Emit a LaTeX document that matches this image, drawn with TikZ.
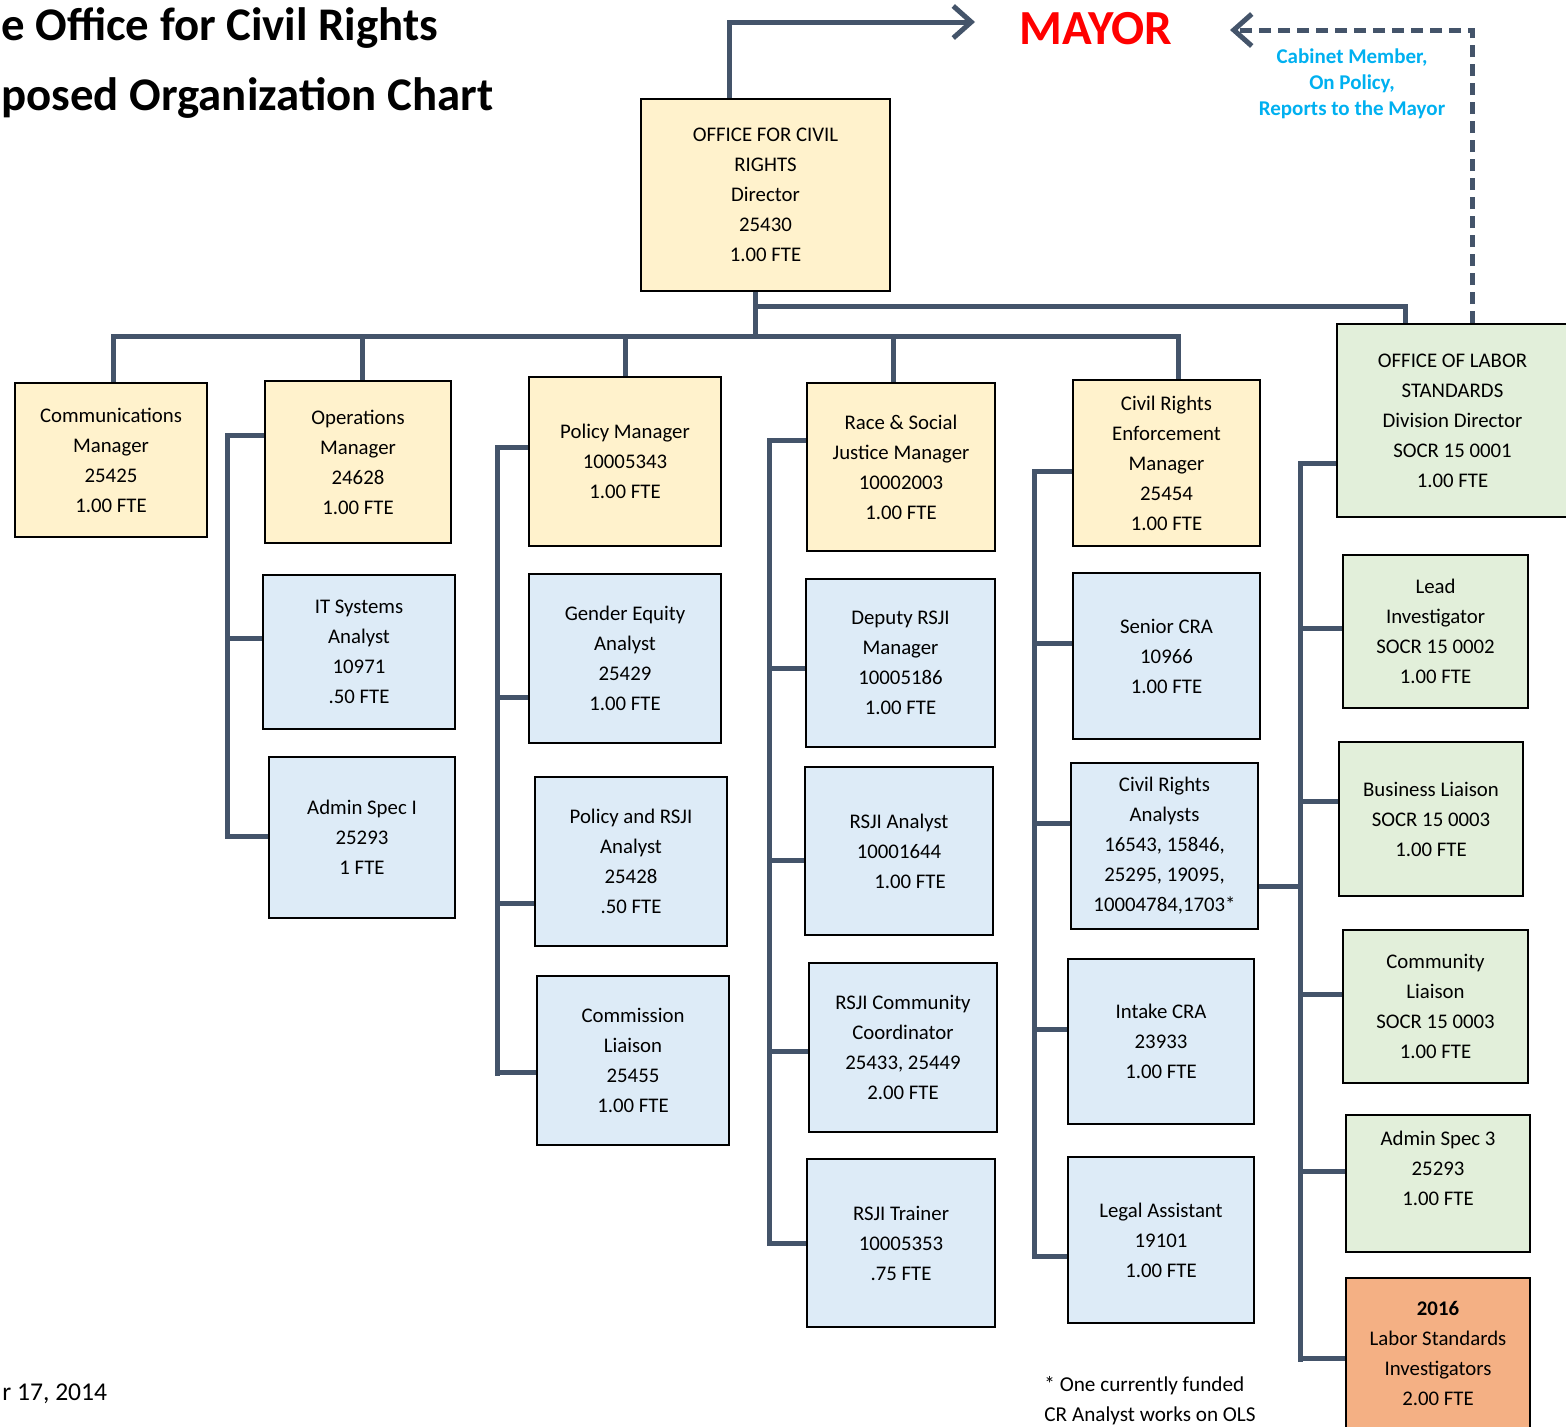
\documentclass[tikz,border=0pt]{standalone}
\usepackage{fontspec}
\setmainfont{Carlito}
\usetikzlibrary{arrows.meta,backgrounds}
\definecolor{linkc}{HTML}{44546A}
\definecolor{cream}{HTML}{FFF2CC}
\definecolor{lblue}{HTML}{DDEBF7}
\definecolor{lgreen}{HTML}{E2EFDA}
\definecolor{orangec}{HTML}{F4B084}
\definecolor{cabc}{HTML}{00B0F0}
\definecolor{mayorred}{HTML}{FF0000}
\tikzset{
  box/.style={draw=black, line width=1pt, rectangle, inner sep=0pt, align=center, font=\fontsize{10.4}{15}\selectfont},
  ybox/.style={box, fill=cream},
  bbox/.style={box, fill=lblue},
  gbox/.style={box, fill=lgreen},
  obox/.style={box, fill=orangec},
  link/.style={draw=linkc, line width=2.5pt},
  barb/.style={-{Straight Barb[length=9pt,width=16pt]}},
}
\newcommand{\orgbox}[7]{\node[#1, minimum width={(#5-#3)*0.5pt}, minimum height={(#6-#4)*0.5pt}] (#2) at ({(#3+#5)/2},{(#4+#6)/2}) {#7};}
\begin{document}
\begin{tikzpicture}[x=0.5pt,y=-0.5pt]
\useasboundingbox (0,0) rectangle (1566,1426);
% titles
\node[anchor=base west, inner sep=0pt, font=\fontsize{23.4}{28}\selectfont\bfseries] (t1) at (1,40) {e Office for Civil Rights};
\node[anchor=base west, inner sep=0pt, font=\fontsize{23.4}{28}\selectfont\bfseries] (t2) at (1,110) {posed Organization Chart};
\node[inner sep=0pt, text=mayorred, font=\fontsize{24.5}{28}\selectfont\bfseries] (mayor) at (1096,29) {MAYOR};
\node[inner sep=0pt, align=center, text=cabc, font=\fontsize{10.5}{13}\selectfont\bfseries] (cab) at (1352,84) {Cabinet Member,\\On Policy,\\Reports to the Mayor};
\node[anchor=base west, inner sep=0pt, font=\fontsize{12.8}{15}\selectfont] (date) at (2,1400) {r 17, 2014};
\node[anchor=base west, inner sep=0pt, font=\fontsize{10.6}{15}\selectfont] (fn1) at (1044,1391) {* One currently funded};
\node[anchor=base west, inner sep=0pt, font=\fontsize{10.6}{15}\selectfont] (fn2) at (1044,1421) {CR Analyst works on OLS};
% top-level boxes
\orgbox{ybox}{dir}{641}{99}{890}{291}{OFFICE FOR CIVIL\\RIGHTS\\Director\\25430\\1.00 FTE}
\orgbox{ybox}{comm}{15}{383}{207}{537}{Communications\\Manager\\25425\\1.00 FTE}
\orgbox{ybox}{ops}{265}{381}{451}{543}{Operations\\Manager\\24628\\1.00 FTE}
\orgbox{ybox}{pol}{529}{377}{721}{546}{Policy Manager\\10005343\\1.00 FTE}
\orgbox{ybox}{rsj}{807}{383}{995}{551}{Race \& Social\\Justice Manager\\10002003\\1.00 FTE}
\orgbox{ybox}{cre}{1073}{380}{1260}{546}{Civil Rights\\Enforcement\\Manager\\25454\\1.00 FTE}
\orgbox{gbox}{ols}{1337}{324}{1568}{517}{OFFICE OF LABOR\\STANDARDS\\Division Director\\SOCR 15 0001\\1.00 FTE}
% blue boxes
\orgbox{bbox}{its}{263}{575}{455}{729}{IT Systems\\Analyst\\10971\\.50 FTE}
\orgbox{bbox}{adm}{269}{757}{455}{918}{Admin Spec I\\25293\\1 FTE}
\orgbox{bbox}{gea}{529}{574}{721}{743}{Gender Equity\\Analyst\\25429\\1.00 FTE}
\orgbox{bbox}{pra}{535}{777}{727}{946}{Policy and RSJI\\Analyst\\25428\\.50 FTE}
\orgbox{bbox}{coml}{537}{976}{729}{1145}{Commission\\Liaison\\25455\\1.00 FTE}
\orgbox{bbox}{drm}{806}{579}{995}{747}{Deputy RSJI\\Manager\\10005186\\1.00 FTE}
\orgbox{bbox}{rsa}{805}{767}{993}{935}{RSJI Analyst\\10001644\\\hspace*{11pt}1.00 FTE}
\orgbox{bbox}{rcc}{809}{963}{997}{1132}{RSJI Community\\Coordinator\\25433, 25449\\2.00 FTE}
\orgbox{bbox}{rtr}{807}{1159}{995}{1327}{RSJI Trainer\\10005353\\.75 FTE}
\orgbox{bbox}{scra}{1073}{573}{1260}{739}{Senior CRA\\10966\\1.00 FTE}
\orgbox{bbox}{cra}{1071}{763}{1258}{929}{Civil Rights\\Analysts\\16543, 15846,\\25295, 19095,\\10004784,1703*}
\orgbox{bbox}{icra}{1068}{959}{1254}{1124}{Intake CRA\\23933\\1.00 FTE}
\orgbox{bbox}{lgl}{1068}{1157}{1254}{1323}{Legal Assistant\\19101\\1.00 FTE}
% green / orange boxes
\orgbox{gbox}{lead}{1343}{555}{1528}{708}{Lead\\Investigator\\SOCR 15 0002\\1.00 FTE}
\orgbox{gbox}{busl}{1339}{742}{1523}{896}{Business Liaison\\SOCR 15 0003\\1.00 FTE}
\orgbox{gbox}{cliai}{1343}{930}{1528}{1083}{Community\\Liaison\\SOCR 15 0003\\1.00 FTE}
\orgbox{gbox}{adm3}{1346}{1115}{1530}{1252}{Admin Spec 3\\25293\\1.00 FTE\\\mbox{}}
\orgbox{obox}{lsi}{1346}{1278}{1530}{1428}{\textbf{2016}\\Labor Standards\\Investigators\\2.00 FTE}
% free-end coordinates
\coordinate (mayorarr) at (975,22);
\coordinate (cabarr) at (1230,30);
\begin{scope}[on background layer]
% to mayor
\draw[link, barb] (dir.north -| 729,0) |- (mayorarr);
\draw[link, barb, dash pattern=on 6pt off 3.5pt] (ols.north -| 1472,0) |- (cabarr);
% director down and bus
\draw[link] (dir.south -| 755,0) -- (755,336);
\draw[link] (755,306) -| (ols.north -| 1405,0);
\draw[link] (comm.north -| 113,0) -- (113,336) -- (1178,336) -- (cre.north -| 1178,0);
\draw[link] (362,336) -- (ops.north -| 362,0);
\draw[link] (625,336) -- (pol.north -| 625,0);
\draw[link] (893,336) -- (rsj.north -| 893,0);
% operations group
\draw[link] (ops.west |- 0,435) -| (227,836) -- (adm.west |- 0,836);
\draw[link] (227,638) -- (its.west |- 0,638);
% policy group
\draw[link] (pol.west |- 0,447) -| (497,1076) ;
\draw[link] (497,1072) -- (coml.west |- 0,1072);
\draw[link] (497,697) -- (gea.west |- 0,697);
\draw[link] (497,903) -- (pra.west |- 0,903);
% RSJ group
\draw[link] (rsj.west |- 0,440) -| (769,1243) -- (rtr.west |- 0,1243);
\draw[link] (769,668) -- (drm.west |- 0,668);
\draw[link] (769,860) -- (rsa.west |- 0,860);
\draw[link] (769,1051) -- (rcc.west |- 0,1051);
% CRE group
\draw[link] (cre.west |- 0,471) -| (1034,1256) -- (lgl.west |- 0,1256);
\draw[link] (1034,643) -- (scra.west |- 0,643);
\draw[link] (1034,823) -- (cra.west |- 0,823);
\draw[link] (1034,1029) -- (icra.west |- 0,1029);
% OLS group
\draw[link] (ols.west |- 0,463) -| (1300,1362);
\draw[link] (1300,1358) -- (lsi.west |- 0,1358);
\draw[link] (1300,628) -- (lead.west |- 0,628);
\draw[link] (1300,801) -- (busl.west |- 0,801);
\draw[link] (1300,994) -- (cliai.west |- 0,994);
\draw[link] (1300,1171) -- (adm3.west |- 0,1171);
\draw[link] (cra.east |- 0,886) -- (1300,886);
\end{scope}
\end{tikzpicture}
\end{document}
